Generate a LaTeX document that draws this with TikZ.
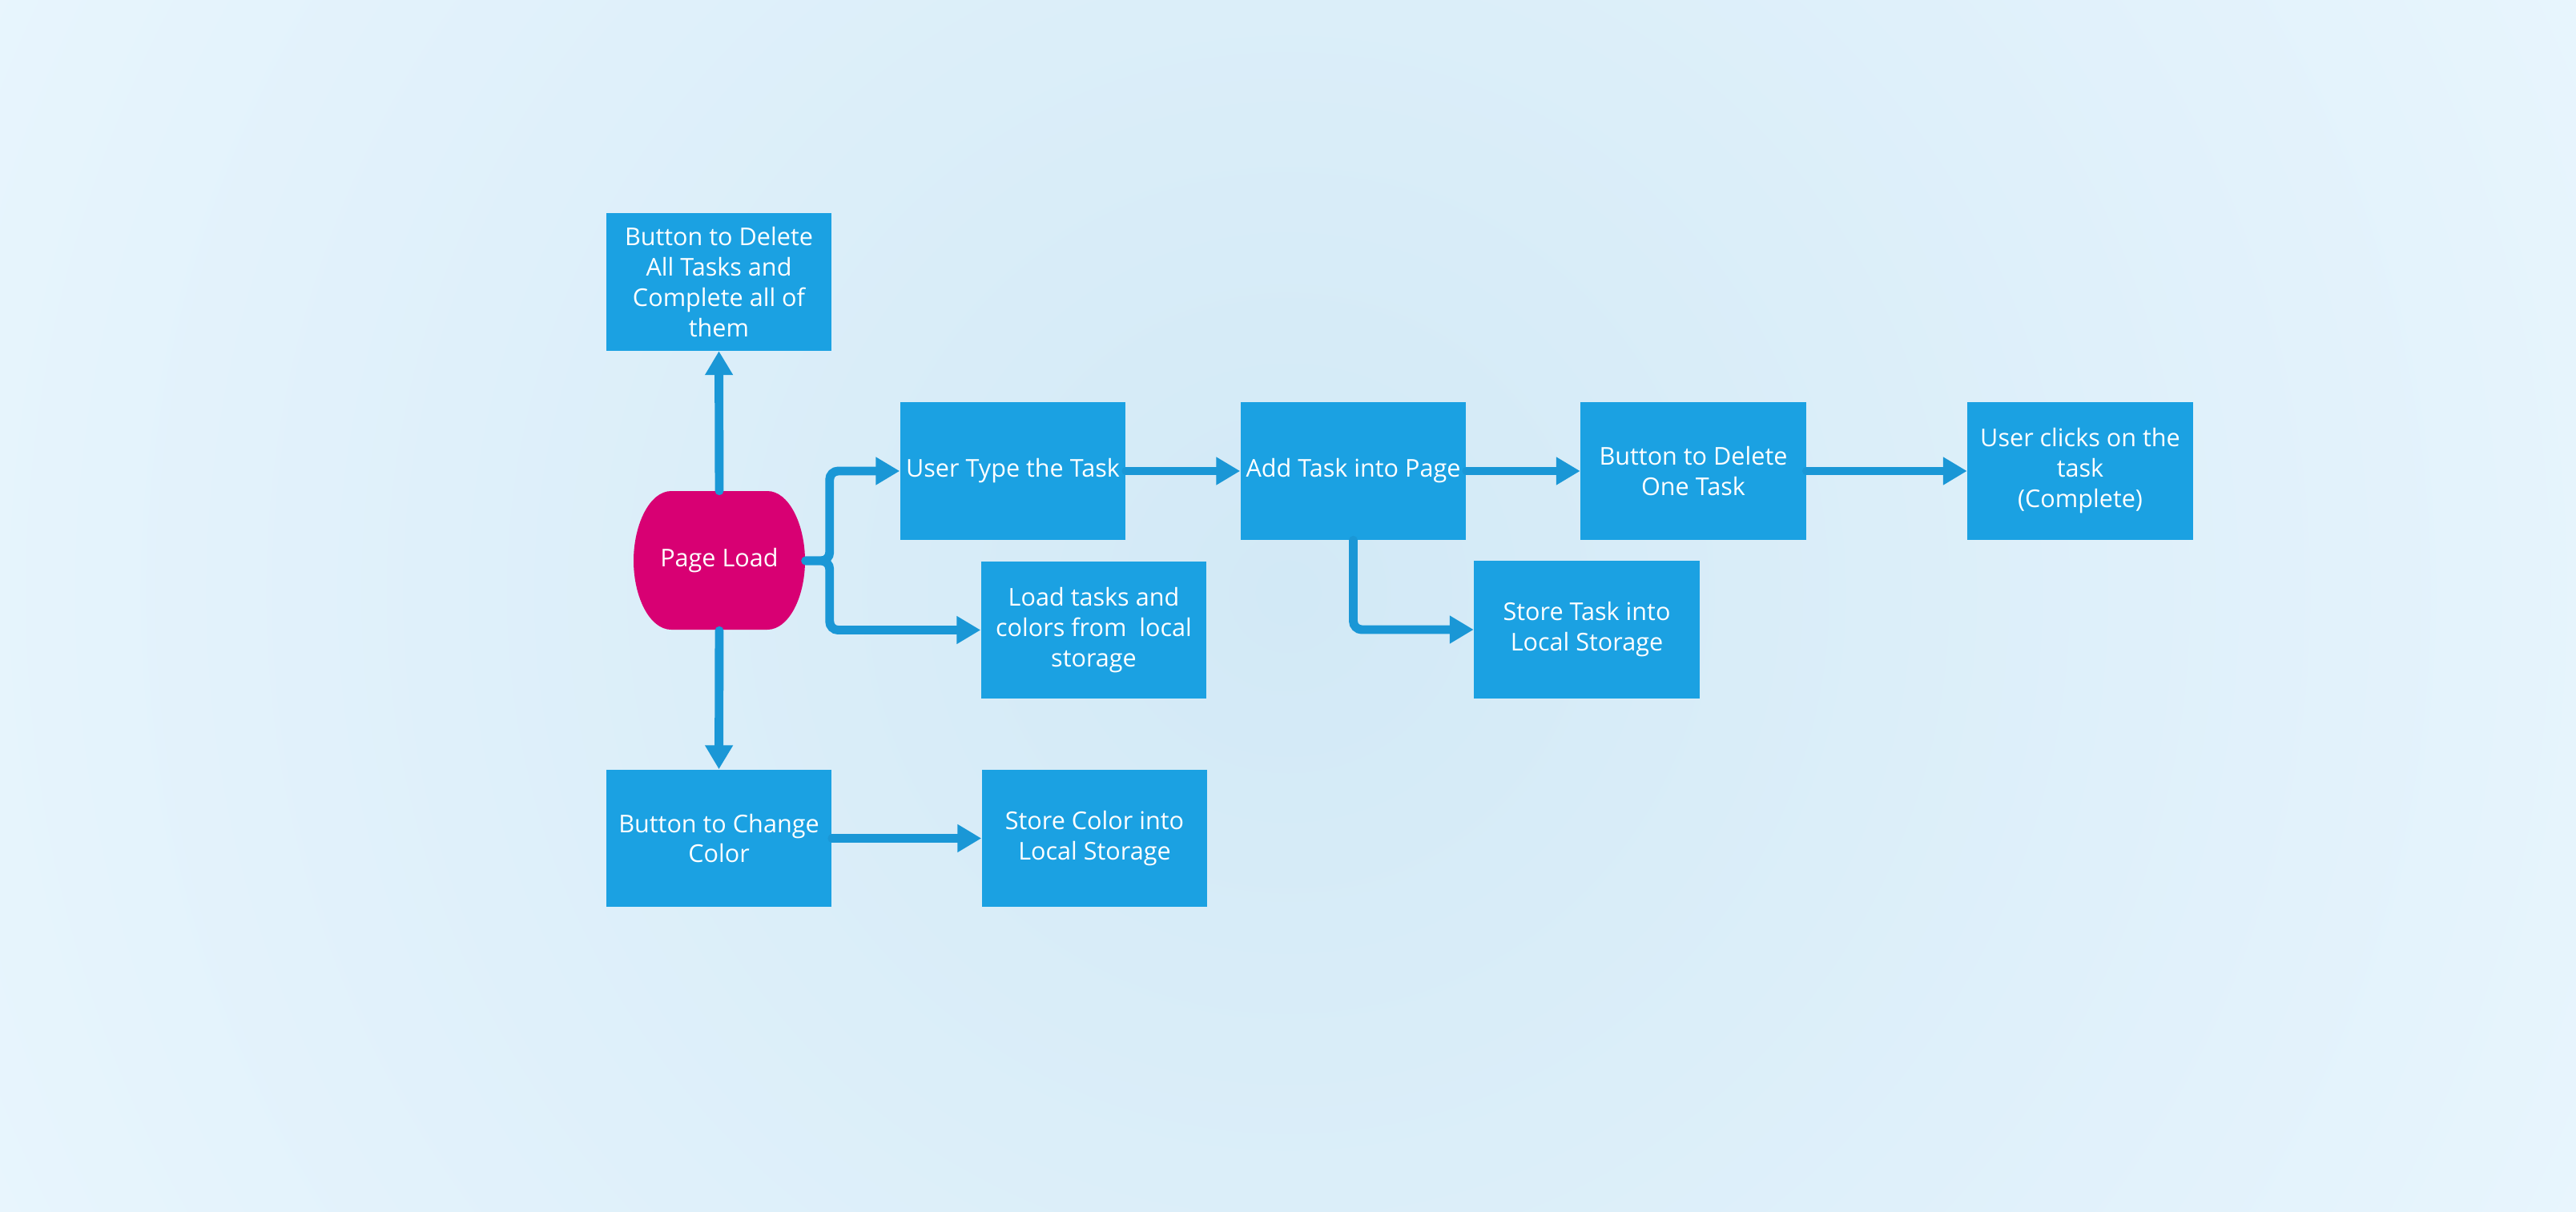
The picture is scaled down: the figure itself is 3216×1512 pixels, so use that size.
\documentclass[tikz,border=0pt]{standalone}
\usepackage{fontspec}
\setmainfont{Open Sans}
\usetikzlibrary{arrows.meta, positioning}
\definecolor{boxblue}{HTML}{1BA1E2}
\definecolor{linkblue}{HTML}{1A97D6}
\definecolor{loadpink}{HTML}{D80073}
\definecolor{bgin}{HTML}{D2E9F6}
\definecolor{bgout}{HTML}{E8F5FD}

\begin{document}
\begin{tikzpicture}[x=0.01cm, y=-0.01cm,
  task/.style={fill=boxblue, text=white, align=center, inner sep=0pt, minimum width=2.81cm, minimum height=1.71cm, font=\fontsize{8.7}{10.8}\selectfont},
  flow/.style={draw=linkblue, line width=3.1pt, line cap=round, rounded corners=3pt, -{Triangle[length=8.5pt, width=9.4pt]}}]
\useasboundingbox (0,0) rectangle (3216,1512);
\begin{scope}
\clip (0,0) rectangle (3216,1512);
\shade[inner color=bgin, outer color=bgout] (1608,740) circle [radius=18cm];
\end{scope}
% page load shape
\fill[loadpink] (838,613) -- (958,613) .. controls (985,613) and (1005,655) .. (1005,700) .. controls (1005,745) and (985,786) .. (958,786) -- (838,786) .. controls (811,786) and (791,745) .. (791,700) .. controls (791,655) and (811,613) .. (838,613) -- cycle;
\node[text=white, inner sep=0pt, minimum width=2.14cm, minimum height=1.73cm, font=\fontsize{8.7}{10.8}\selectfont] (pageload) at (898,700) {Page Load};
\node[task] (delall) at (897.5,352) {Button to Delete\\All Tasks and\\Complete all of\\them};
\node[task] (usertype) at (1264.5,588) {User Type the Task};
\node[task] (loadtasks) at (1365.5,786.5) {Load tasks and\\colors from\ \ local\\storage};
\node[task] (addtask) at (1689.5,588) {Add Task into Page};
\node[task] (storetask) at (1981,786) {Store Task into\\Local Storage};
\node[task] (deleteone) at (2114,588) {Button to Delete\\One Task};
\node[task] (userclicks) at (2597,588) {User clicks on the\\task\\(Complete)};
\node[task] (changecolor) at (897.5,1046.5) {Button to Change\\Color};
\node[task] (storecolor) at (1366.5,1046.5) {Store Color into\\Local Storage};
% connectors
\draw[flow] (pageload.north) -- (delall.south);
\draw[flow] (pageload.south) -- (changecolor.north);
\draw[flow] (pageload.east) -- ++(30,0) |- (usertype.west);
\draw[flow] (pageload.east) -- ++(30,0) |- (loadtasks.west);
\draw[flow] (usertype.east) -- (addtask.west);
\draw[flow] (addtask.east) -- (deleteone.west);
\draw[flow] (deleteone.east) -- (userclicks.west);
\draw[flow] (addtask.south) |- (storetask.west);
\draw[flow] (changecolor.east) -- (storecolor.west);
\end{tikzpicture}
\end{document}
